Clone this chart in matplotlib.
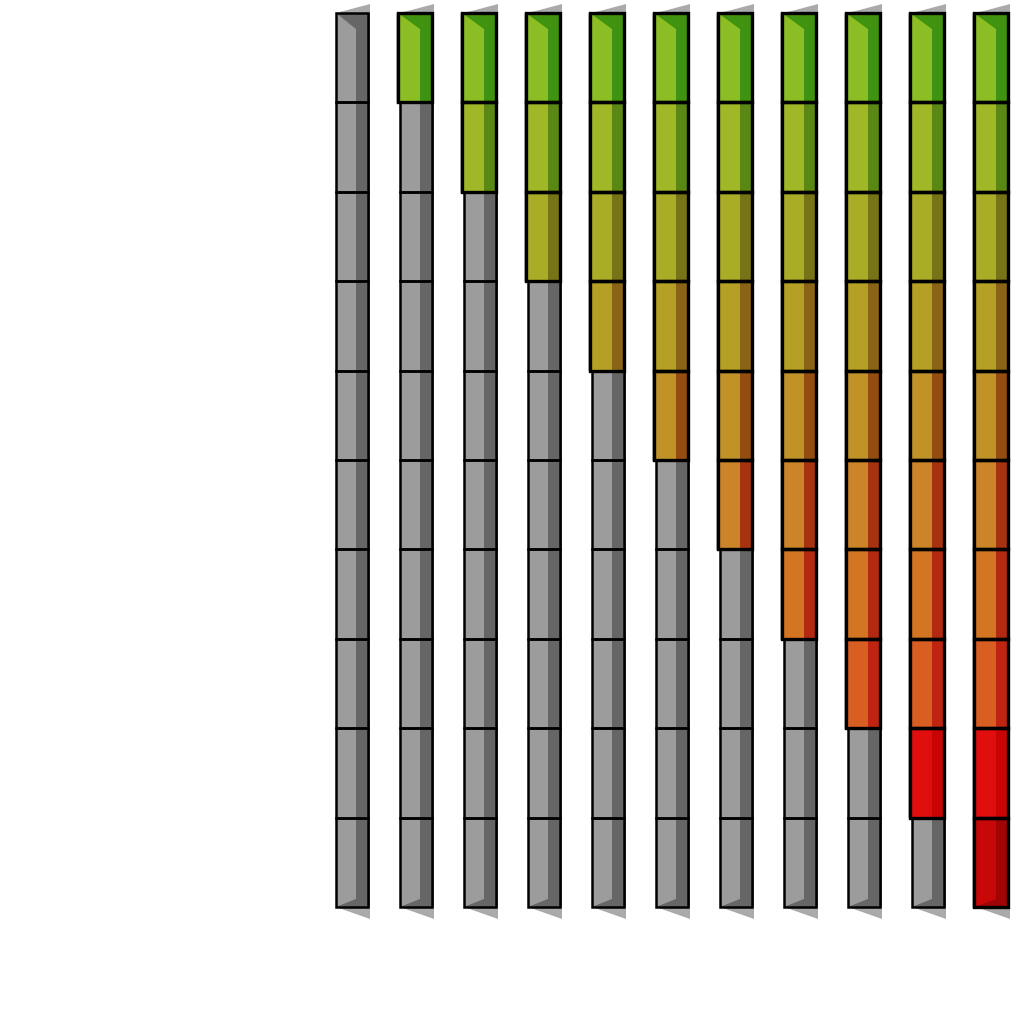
import matplotlib
matplotlib.use("Agg")
import matplotlib.pyplot as plt
from matplotlib.patches import Rectangle, Polygon

# ---- data ----
levels = [0, 1, 2, 3, 4, 5, 6, 7, 8, 9, 10]   # filled cells per column (from top)
n_rows = 10
front_colors = ["#8bbd25", "#a0b828", "#a9ac27", "#b4a024", "#c09228",
                "#cc8428", "#d37522", "#d95e22", "#e10e0e", "#c80808"]
side_colors = ["#3f9310", "#5b8714", "#777418", "#8a6416", "#944d10",
               "#a63212", "#b32912", "#bf2412", "#c80404", "#a00404"]
empty_front = "#9c9c9c"
empty_side = "#666666"
shadow_color = "#aaaaaa"

# ---- layout (data units) ----
col_w = 0.5
front_w = 0.3125
top_cut = 0.179
bot_cut = 0.09
shadow_ext = 0.031
fill_shift = 0.025

fig = plt.figure(figsize=(10.24, 10.24), dpi=100)
ax = fig.add_axes([0, 0, 1, 1])
ax.set_xlim(-5.5, 10.5)
ax.set_ylim(11.309, -0.1454)
ax.axis("off")

for k, lev in enumerate(levels):
    xl = k - col_w / 2
    xr = k + col_w / 2
    xs = xl + front_w
    xsh = xr + shadow_ext
    # shadows
    ax.add_patch(Polygon([(xl, 0), (xsh, -0.1), (xsh, 0)], closed=True,
                         facecolor=shadow_color, edgecolor="none", zorder=1))
    ax.add_patch(Polygon([(xl, n_rows), (xsh, n_rows), (xsh, n_rows + 0.134)], closed=True,
                         facecolor=shadow_color, edgecolor="none", zorder=1))
    for r in range(n_rows):
        filled = r < lev
        fc = front_colors[r] if filled else empty_front
        sc = side_colors[r] if filled else empty_side
        x0 = xl - fill_shift if filled else xl
        ax.add_patch(Rectangle((xr, r), shadow_ext, 1,
                               facecolor="#111111" if filled else "#555555",
                               edgecolor="none", zorder=1))
        if filled:
            ax.add_patch(Rectangle((x0 - 0.03, r), 0.03, 1.01, facecolor="#bbbbbb",
                                   edgecolor="none", zorder=1))
        ax.add_patch(Rectangle((x0, r), xr - x0, 1, facecolor=fc, edgecolor="none", zorder=2))
        if r == 0:
            pts = [(x0, r), (xr, r), (xr, r + 1), (xs, r + 1), (xs, r + top_cut)]
        elif r == n_rows - 1:
            pts = [(xs, r), (xr, r), (xr, r + 1), (x0, r + 1), (xs, r + 1 - bot_cut)]
        else:
            pts = [(xs, r), (xr, r), (xr, r + 1), (xs, r + 1)]
        ax.add_patch(Polygon(pts, closed=True, facecolor=sc, edgecolor="none", zorder=3))
        ax.add_patch(Rectangle((x0, r), xr - x0, 1, facecolor="none", edgecolor="black",
                               linewidth=2.4 if filled else 1.8,
                               zorder=5 if filled else 4))

fig.savefig("out.png", dpi=100)
